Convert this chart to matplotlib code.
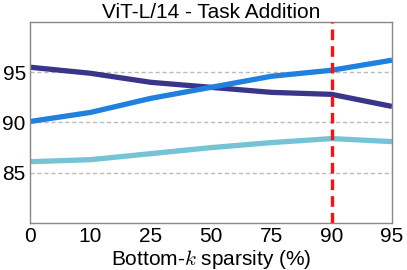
import matplotlib
matplotlib.use("Agg")
import matplotlib.pyplot as plt

x_labels = ["0", "10", "25", "50", "75", "90", "95"]
series_dark = [95.5, 94.9, 94.0, 93.5, 93.0, 92.8, 91.6]
series_blue = [90.1, 91.0, 92.4, 93.5, 94.6, 95.2, 96.2]
series_light = [86.1, 86.3, 86.9, 87.5, 88.0, 88.4, 88.1]
y_ticks = [85, 90, 95]
vline_index = 5

plt.rcParams['font.family'] = ['Liberation Sans', 'DejaVu Sans']
plt.rcParams['mathtext.fontset'] = 'cm'

fig = plt.figure(figsize=(4.07, 2.70), dpi=100)
ax = fig.add_axes([30/407, 1 - 223/270, (392-30)/407, (223-22)/270])

xs = list(range(len(x_labels)))
for y in y_ticks:
    ax.axhline(y, color='#bbbbbb', linestyle=(0, (3, 2)), linewidth=1.0, zorder=0)

ax.plot(xs, series_dark, color='#3b358a', linewidth=3.8, solid_capstyle='butt', solid_joinstyle='round')
ax.plot(xs, series_blue, color='#1f80e0', linewidth=3.8, solid_capstyle='butt', solid_joinstyle='round')
ax.plot(xs, series_light, color='#74c3d6', linewidth=3.8, solid_capstyle='butt', solid_joinstyle='round')
ax.axvline(vline_index, color='#ff1010', linestyle=(0, (3.2, 1.8)), linewidth=2.4, zorder=5)

ax.set_xlim(0, len(x_labels) - 1)
ax.set_ylim(80, 100)
ax.set_xticks(xs)
ax.set_xticklabels(x_labels)
ax.set_yticks(y_ticks)
ax.tick_params(axis='both', length=0, labelsize=15, pad=3)
for s in ax.spines.values():
    s.set_color('#888888')
    s.set_linewidth(1.0)

ax.set_title("ViT-L/14 - Task Addition", fontsize=15, pad=3)
ax.set_xlabel(r"Bottom-$k$ sparsity (%)", fontsize=15, labelpad=1)

fig.savefig("out.png", dpi=100)
